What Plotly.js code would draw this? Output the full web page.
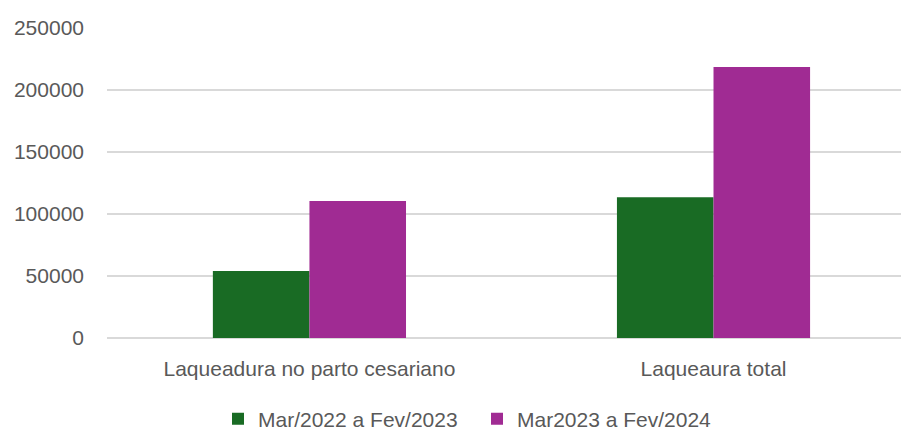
<!DOCTYPE html>
<html>
<head>
<meta charset="utf-8">
<script src="https://cdn.plot.ly/plotly-3.0.1.min.js"></script>
<style>
  html, body { margin: 0; padding: 0; background: #ffffff; }
  #chart { width: 901px; height: 431px; }
</style>
</head>
<body>
<div id="chart"></div>
<script>
const categories = ['Laqueadura no parto cesariano', 'Laqueaura total'];
const seriesNames = ['Mar/2022 a Fev/2023', 'Mar2023 a Fev/2024'];
const series2022 = [54000, 113500];
const series2023 = [110500, 218500];
const yTicks = [0, 50000, 100000, 150000, 200000, 250000];

const font = { family: 'Liberation Sans, Arial, sans-serif', size: 21, color: '#595959' };

const traces = [
  { type: 'bar', x: categories, y: series2022, name: seriesNames[0],
    marker: { color: '#196B24', line: { width: 0 } }, hoverinfo: 'none' },
  { type: 'bar', x: categories, y: series2023, name: seriesNames[1],
    marker: { color: '#A02B93', line: { width: 0 } }, hoverinfo: 'none' }
];

const layout = {
  width: 901, height: 431,
  margin: { l: 107, r: 0, t: 28, b: 93, pad: 0 },
  paper_bgcolor: '#ffffff', plot_bgcolor: '#ffffff',
  font: font,
  barmode: 'group', bargap: 0.522, bargroupgap: 0,
  showlegend: true,
  legend: {
    orientation: 'h', xref: 'container', yref: 'container',
    x: 218 / 901, xanchor: 'left', y: 12 / 431, yanchor: 'middle',
    entrywidth: 214, entrywidthmode: 'pixels',
    font: font, bgcolor: 'rgba(0,0,0,0)'
  },
  xaxis: {
    type: 'category', range: [-0.501, 1.464],
    showgrid: false, showline: false, zeroline: false, ticks: '',
    tickfont: font, ticklabelstandoff: 16, fixedrange: true
  },
  yaxis: {
    range: [0, 250000], tickvals: yTicks, tickformat: 'd',
    showgrid: true, gridcolor: '#D9D9D9', gridwidth: 1.3,
    zeroline: true, zerolinecolor: '#D9D9D9', zerolinewidth: 1.3,
    showline: false, ticks: '', tickfont: font, ticklabelstandoff: 22, fixedrange: true
  }
};

Plotly.newPlot('chart', traces, layout, { displayModeBar: false, staticPlot: true });
</script>
</body>
</html>
